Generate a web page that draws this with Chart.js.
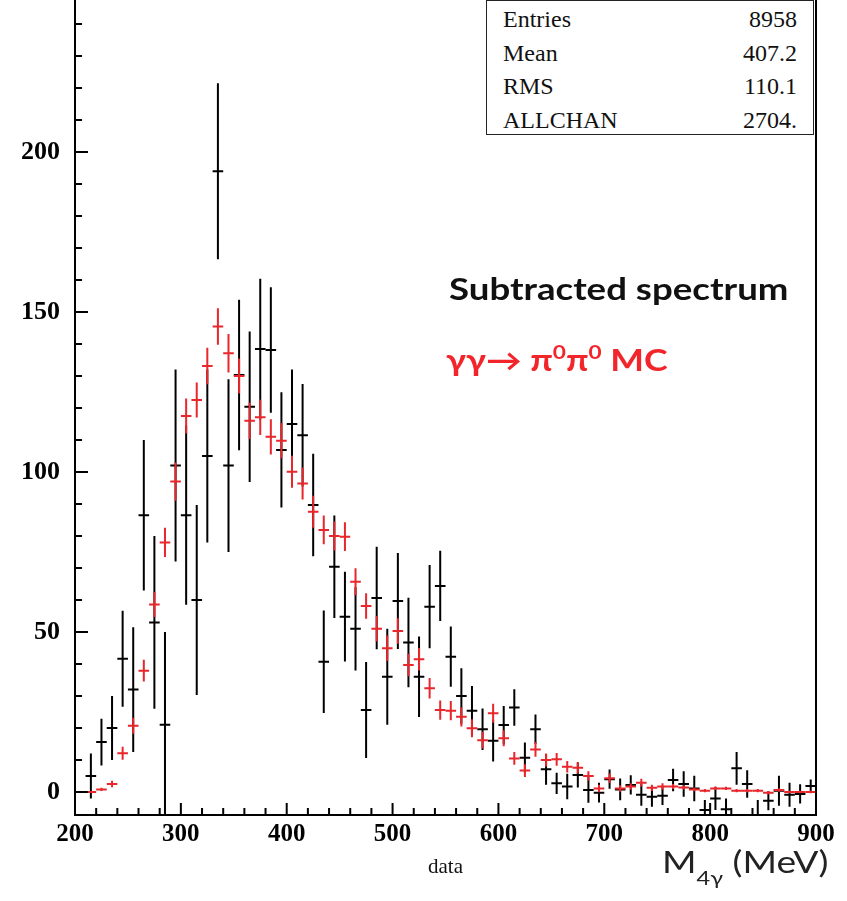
<!DOCTYPE html>
<html lang="en">
  <head>
    <meta charset="UTF-8" />
    <script src="https://cdn.jsdelivr.net/npm/chart.js@4.4.0/dist/chart.umd.min.js"></script>
    <title>M4g spectrum</title>
    <style>
      body { margin: 0; background: #fff; }
      #wrap { position: relative; width: 847px; height: 901px; }
      #stats {
        position: absolute; left: 486px; top: 0; width: 328px; height: 135px;
        border: 1.5px solid #222; background: #fff; box-sizing: border-box;
        font-family: "Liberation Serif", serif; font-size: 24px; color: #111;
        padding: 2px 16px 0 16px;
      }
      #stats div { display: flex; justify-content: space-between; height: 33.5px; line-height: 33.5px; }
      .note {
        position: absolute; font-family: Lato, "Open Sans", sans-serif; font-weight: bold;
        font-size: 30px; line-height: 1; white-space: nowrap; transform-origin: 0 0;
      }
      .note sup { font-size: 19px; vertical-align: baseline; position: relative; top: -12px; }
      #xunit {
        position: absolute; left: 662px; top: 846px; font-family: Lato, sans-serif; font-size: 30px;
        line-height: 1; color: #222; white-space: nowrap; transform: scaleX(1.24); transform-origin: 0 0;
      }
      #xunit sub { font-size: 19px; vertical-align: baseline; position: relative; top: 12px; }
    </style>
  </head>
  <body>
    <div id="wrap">
      <canvas id="myChart" width="847" height="901"></canvas>
      <div id="stats">
        <div><span>Entries</span><span>8958</span></div>
        <div><span>Mean</span><span>407.2</span></div>
        <div><span>RMS</span><span>110.1</span></div>
        <div><span>ALLCHAN</span><span>2704.</span></div>
      </div>
      <div class="note" style="left:449px; top:273px; color:#111; transform:scaleX(1.22);">Subtracted spectrum</div>
      <div class="note" style="left:446px; top:344px; color:#f2252b; transform:scaleX(1.19);">γγ→ π<sup>0</sup>π<sup>0</sup> MC</div>
      <div id="xunit">M<sub>4γ</sub> (MeV)</div>
    </div>

    <script>
      // 10 MeV bins, centres
      var massBins = [205, 215, 225, 235, 245, 255, 265, 275, 285, 295, 305, 315, 325, 335, 345, 355, 365, 375, 385, 395,
        405, 415, 425, 435, 445, 455, 465, 475, 485, 495, 505, 515, 525, 535, 545, 555, 565, 575, 585, 595,
        605, 615, 625, 635, 645, 655, 665, 675, 685, 695, 705, 715, 725, 735, 745, 755, 765, 775, 785, 795,
        805, 815, 825, 835, 845, 855, 865, 875, 885, 895];
      var binWidth = 10;

      // subtracted data spectrum
      var dataCounts = [null, 5, 15.6, 20, 41.6, 32, 86.5, 53, 21, 102, 86.5, 60, 105, 194, 102, 130.3, 120.4, 138.4, 138.1, 106.9,
        115, 111.5, 89.7, 40.7, 70.4, 54.8, 51, 25.6, 60.6, 36, 59.7, 46.7, 36, 57.9, 64.4, 42.3, 30, 25.4, 19.6, 16,
        20.9, 26.4, 10.7, 19.6, 7.1, 2.7, 1.7, 5.3, 0.6, -0.2, 4, 0.8, 2.2, -0.9, -1.5, -1.2, 3.75, 2.5, 1.1, -5.6,
        -2, -5.4, 7.4, 2.5, -7.5, -2.7, 0.4, -0.9, -0.6, 1.9];
      var dataErrors = [null, 7, 7.3, 10, 15, 19.5, 23.5, 27, 29, 30, 28, 29.7, 27, 27.5, 27, 23.5, 23.5, 22, 19.6, 18,
        17, 16, 16, 16, 16, 14, 13, 15, 16, 15, 15, 14, 12.6, 13, 11, 9.4, 8.7, 7.7, 6.5, 6.5,
        6, 5.7, 4.8, 4.6, 4.8, 3.3, 4, 3.9, 4, 3.1, 3, 3.4, 3, 3.4, 3.1, 2.9, 3.5, 4, 4, 3.1,
        3.6, 3.4, 5.1, 4.3, 5, 3, 4.7, 3.75, 3, 2];

      // gamma gamma -> pi0 pi0 MC
      var mcCounts = [0, 0, 0.8, 2.5, 12.1, 20.7, 37.9, 58.6, 78, 97, 117.5, 122.5, 133.1, 145.5, 137.1, 130, 116, 117.1, 111, 109.8,
        100.1, 96.4, 87.6, 81.9, 80, 79.8, 65.7, 58.1, 51, 44.9, 50.3, 39.7, 41.5, 32.4, 25.6, 25.4, 23.5, 19.9, 16.2, 24.6,
        16.8, 10.5, 6.7, 13.3, 10, 10.2, 7.9, 7.6, 5, 1.1, 4.3, 1.1, 1.7, 2.9, 1.3, 1.7, 1.7, 1.4, 0.8, 0.4,
        1.1, 1.1, 0.4, 0.4, 0.4, -0.2, 0.6, 0, 0, 0];
      var mcErrors = [0, 0, 0.5, 1, 2, 2.5, 3.4, 3.9, 4.6, 6, 5.5, 5.5, 5.7, 5.7, 6, 5.5, 5.7, 5.5, 5.5, 5.5,
        5, 5, 5, 4.5, 4.5, 4.5, 4.2, 4, 4, 4, 4, 3.5, 3.5, 3.2, 3, 3, 3, 2.8, 2.6, 3,
        2.5, 2, 2, 2.3, 2, 2, 1.8, 1.8, 1.5, 1.2, 1.5, 1, 1, 1.2, 1, 1, 0.8, 0.6, 0.6, 0.5,
        0.5, 0.5, 0.5, 0.5, 0.5, 0.5, 0.5, 0.4, 0.4, 0.4];

      var yTicks = [0, 50, 100, 150, 200];

      function points(vals, errs) {
        var out = [];
        for (var i = 0; i < massBins.length; i++) {
          if (vals[i] === null) continue;
          out.push({ x: massBins[i], y: vals[i], err: errs[i] });
        }
        return out;
      }

      // root-style crosses: bin-wide horizontal bar + vertical error
      var crossPlugin = {
        id: "crosses",
        afterDatasetsDraw: function (chart) {
          var ctx = chart.ctx, xs = chart.scales.x, ys = chart.scales.y, a = chart.chartArea;
          ctx.save();
          ctx.beginPath();
          ctx.rect(a.left, a.top, a.right - a.left, a.bottom - a.top);
          ctx.clip();
          chart.data.datasets.forEach(function (ds) {
            ctx.strokeStyle = ds.borderColor;
            ctx.lineWidth = 2;
            ds.data.forEach(function (p) {
              var y = ys.getPixelForValue(p.y);
              ctx.beginPath();
              ctx.moveTo(xs.getPixelForValue(p.x - binWidth / 2), y);
              ctx.lineTo(xs.getPixelForValue(p.x + binWidth / 2), y);
              if (p.err > 0) {
                var x = xs.getPixelForValue(p.x);
                ctx.moveTo(x, ys.getPixelForValue(p.y + p.err));
                ctx.lineTo(x, ys.getPixelForValue(p.y - p.err));
              }
              ctx.stroke();
            });
          });
          ctx.restore();
        }
      };

      // frame with inward ticks
      var framePlugin = {
        id: "frame",
        afterDraw: function (chart) {
          var ctx = chart.ctx, xs = chart.scales.x, ys = chart.scales.y, a = chart.chartArea;
          ctx.save();
          ctx.strokeStyle = "#000";
          ctx.lineWidth = 2;
          ctx.beginPath();
          ctx.moveTo(a.left, a.top);
          ctx.lineTo(a.left, a.bottom);
          ctx.lineTo(a.right, a.bottom);
          ctx.lineTo(a.right, a.top);
          for (var v = 0; v <= ys.max; v += 10) {
            var py = ys.getPixelForValue(v);
            ctx.moveTo(a.left, py);
            ctx.lineTo(a.left + (v % 50 === 0 ? 13 : 7), py);
          }
          for (var m = xs.min; m <= xs.max; m += 20) {
            var px = xs.getPixelForValue(m);
            ctx.moveTo(px, a.bottom);
            ctx.lineTo(px, a.bottom - (m % 100 === 0 ? 12 : 7));
          }
          ctx.stroke();
          ctx.restore();
        }
      };

      var c = new Chart("myChart", {
        type: "scatter",
        data: {
          datasets: [
            { label: "data", data: points(dataCounts, dataErrors), borderColor: "#000", pointRadius: 0 },
            { label: "MC", data: points(mcCounts, mcErrors), borderColor: "#e8262b", pointRadius: 0 }
          ]
        },
        options: {
          responsive: false,
          animation: false,
          layout: { padding: { top: 0, right: 31, left: 0, bottom: 0 } },
          plugins: { legend: { display: false }, tooltip: { enabled: false } },
          scales: {
            x: {
              type: "linear",
              min: 200,
              max: 900,
              grid: { display: false, drawTicks: false, tickLength: 0 },
              border: { display: false },
              ticks: {
                stepSize: 100,
                color: "#000",
                padding: 5,
                font: { family: "Liberation Serif", size: 25, weight: "bold" }
              },
              title: {
                display: true,
                text: "data",
                color: "#111",
                padding: { top: 0, bottom: 21 },
                font: { family: "Liberation Serif", size: 21 }
              },
              afterFit: function (s) { s.height = 86; s.paddingLeft = 0; s.paddingRight = 0; }
            },
            y: {
              min: -7.19,
              max: 247.5,
              grid: { display: false, drawTicks: false, tickLength: 0 },
              border: { display: false },
              afterBuildTicks: function (s) { s.ticks = yTicks.map(function (v) { return { value: v }; }); },
              ticks: {
                color: "#000",
                padding: 15,
                font: { family: "Liberation Serif", size: 26, weight: "bold" }
              },
              afterFit: function (s) { s.width = 75; s.paddingTop = 0; s.paddingBottom = 0; }
            }
          }
        },
        plugins: [crossPlugin, framePlugin]
      });
    </script>
  </body>
</html>
